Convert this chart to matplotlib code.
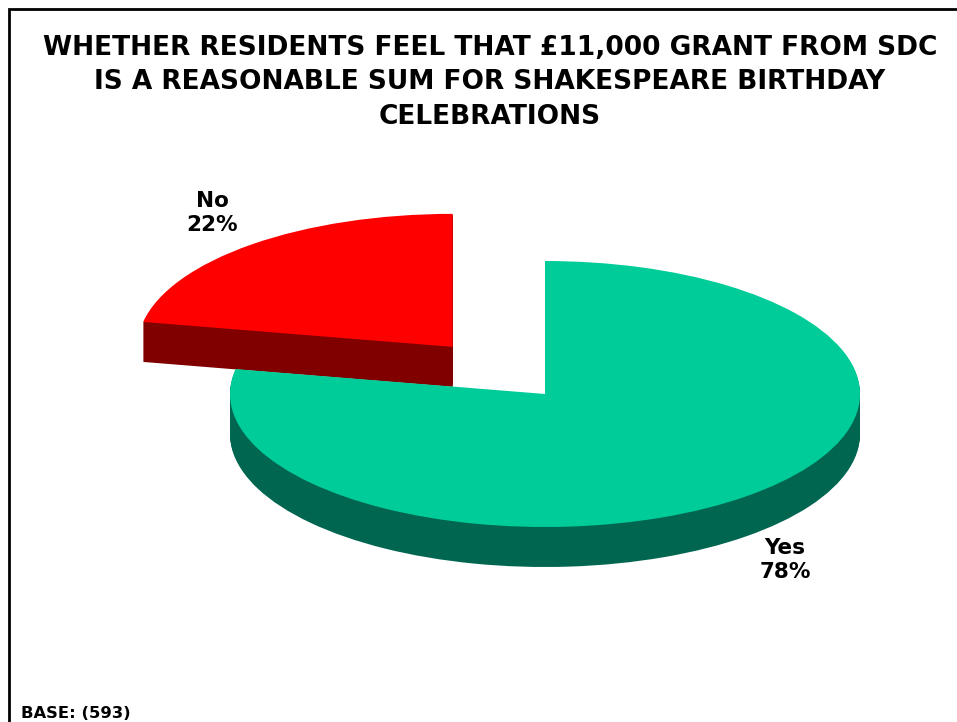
import matplotlib
matplotlib.use("Agg")
import matplotlib.pyplot as plt
from matplotlib.patches import Rectangle

# ---------------------------------------------------------
# data
# ---------------------------------------------------------
labels = ["Yes", "No"]
shares = [78, 22]
top_colors = ["#00CC99", "#FF0000"]
side_colors = ["#006650", "#800000"]
explode = [0, 0.46]

title_lines = [
    "WHETHER RESIDENTS FEEL THAT £11,000 GRANT FROM SDC",
    "IS A REASONABLE SUM FOR SHAKESPEARE BIRTHDAY",
    "CELEBRATIONS",
]
base_note = "BASE: (593)"

# ---------------------------------------------------------
# figure
# ---------------------------------------------------------
W, H = 957, 722
fig = plt.figure(figsize=(W / 100, H / 100), dpi=100)
fig.patch.set_facecolor("white")
ax = fig.add_axes([0, 0, 1, 1])

# pixel geometry of the main pie (centre, radii), used for the axis scales
cx, cy = 545, 394
rx, ry = 315, 133
depth = 40 / ry
n_layers = 40

# side walls: stack of darker pies pushed downwards
for i in range(n_layers, 0, -1):
    ax.pie(shares, explode=explode, colors=side_colors, startangle=90,
           counterclock=False, center=(0, -depth * i / n_layers),
           wedgeprops=dict(linewidth=0))

# top face
ax.pie(shares, explode=explode, colors=top_colors, startangle=90,
       counterclock=False, center=(0, 0), wedgeprops=dict(linewidth=0))

ax.set_xlim(-cx / rx, (W - cx) / rx)
ax.set_ylim(-(H - cy) / ry, cy / ry)
ax.set_aspect("auto")
ax.axis("off")

# slice labels
label_pos = {"No": (212, 213), "Yes": (785, 560)}
for lab, val in zip(labels, shares):
    px, py = label_pos[lab]
    fig.text(px / W, 1 - py / H, f"{lab}\n{val}%", ha="center", va="center",
             fontsize=15.5, fontweight="bold", linespacing=1.3)

# title
title_y = [48, 82, 117]
for line, ty in zip(title_lines, title_y):
    fig.text(490 / W, 1 - ty / H, line, ha="center", va="center",
             fontsize=19, fontweight="bold")

fig.text(21 / W, 1 - 714 / H, base_note, ha="left", va="center",
         fontsize=11.8, fontweight="bold")

# outer frame (only top and left edges fall inside the picture)
fig.add_artist(Rectangle((9 / W, -0.1), 1.2, 1 - 9 / H + 0.1,
                         transform=fig.transFigure, fill=False,
                         edgecolor="black", linewidth=2))

fig.savefig("out.png", dpi=100)
